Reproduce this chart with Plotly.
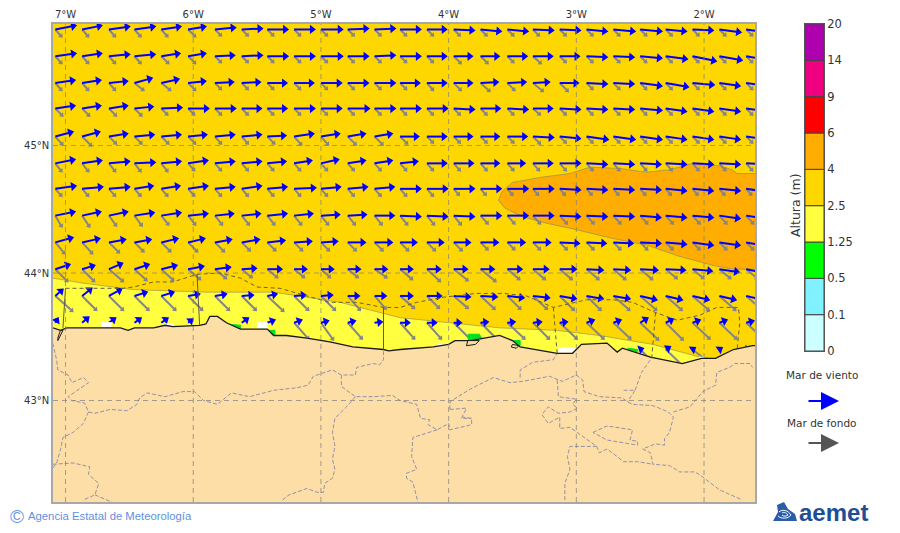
import numpy as np
import plotly.graph_objects as go

# map frame
lon_ticks = [-7, -6, -5, -4, -3, -2]
lon_labels = ['7°W', '6°W', '5°W', '4°W', '3°W', '2°W']
lat_ticks = [43, 44, 45]
lat_labels = ['43°N', '44°N', '45°N']
lon_range = [-7.098, -1.601]
lat_range = [42.204, 45.953]

# colour bar
level_labels = ['0', '0.1', '0.5', '1.25', '2.5', '4', '6', '9', '14', '20']
level_colors = ['#CCFFFF', '#80F2FF', '#00FF00', '#FFFF40', '#FFD700', '#FFAD00', '#FF0000', '#EE0080', '#AF00AF']

# wave height areas
yellow_lon = [-7.10, -6.86, -6.47, -5.89, -5.37, -5.11, -4.85, -4.38, -3.99, -3.60, -3.15, -2.82, -2.40, -2.03, -1.94, -1.94, -7.10]
yellow_lat = [43.96, 43.92, 43.87, 43.85, 43.85, 43.81, 43.77, 43.65, 43.61, 43.57, 43.55, 43.51, 43.44, 43.34, 43.33, 43.24, 43.24]
orange_lon = [-1.59, -1.74, -1.78, -1.88, -2.09, -2.27, -2.45, -2.66, -2.89, -3.05, -3.28, -3.50, -3.58, -3.61, -3.56, -3.42, -3.23, -3.00, -2.71, -2.45, -2.19, -1.93, -1.77, -1.59]
orange_lat = [44.78, 44.78, 44.81, 44.84, 44.86, 44.81, 44.79, 44.82, 44.83, 44.78, 44.75, 44.71, 44.64, 44.57, 44.51, 44.44, 44.39, 44.34, 44.27, 44.22, 44.13, 44.06, 44.03, 44.03]

# coast, west to east
coast_lon = [-7.10, -7.04, -6.99, -6.68, -6.57, -6.51, -6.46, -6.31, -6.22, -6.16, -5.95, -5.90, -5.87, -5.81, -5.74, -5.63, -5.42, -5.37, -5.27, -5.11, -4.93, -4.75, -4.51, -4.47, -4.38, -4.12, -4.00, -3.95, -3.83, -3.60, -3.50, -3.44, -3.15, -3.03, -2.96, -2.76, -2.68, -2.64, -2.42, -2.17, -2.02, -1.91, -1.77, -1.62, -1.60]
coast_lat = [43.57, 43.55, 43.57, 43.57, 43.57, 43.55, 43.57, 43.57, 43.59, 43.58, 43.59, 43.60, 43.66, 43.66, 43.61, 43.56, 43.56, 43.51, 43.51, 43.49, 43.46, 43.42, 43.40, 43.39, 43.40, 43.42, 43.44, 43.47, 43.47, 43.51, 43.47, 43.42, 43.37, 43.37, 43.44, 43.45, 43.38, 43.41, 43.34, 43.29, 43.33, 43.33, 43.40, 43.43, 43.43]

# small patches next to the shore
white_lon = [[-6.72, -6.64, -6.64, -6.72], [-6.23, -6.16, -6.16, -6.23], [-5.50, -5.42, -5.42, -5.50], [-4.09, -4.00, -4.00, -4.09], [-3.14, -3.01, -3.05, -3.14], [-2.04, -2.00, -2.00, -2.04]]
white_lat = [[43.61, 43.61, 43.57, 43.57], [43.60, 43.60, 43.58, 43.58], [43.61, 43.61, 43.56, 43.56], [43.44, 43.44, 43.42, 43.42], [43.41, 43.41, 43.33, 43.33], [43.34, 43.34, 43.32, 43.32]]
green_lon = [[-5.74, -5.63, -5.63, -5.74], [-5.42, -5.36, -5.36, -5.42], [-3.85, -3.73, -3.76, -3.85], [-3.50, -3.44, -3.44, -3.50], [-2.60, -2.52, -2.52, -2.60]]
green_lat = [[43.61, 43.56, 43.59, 43.60], [43.55, 43.55, 43.51, 43.51], [43.47, 43.47, 43.52, 43.52], [43.47, 43.47, 43.43, 43.43], [43.40, 43.38, 43.40, 43.41]]
islet_lon = [[-7.04, -7.02, -7.06, -7.06, -7.04], [-3.85, -3.76, -3.79, -3.86, -3.85], [-3.50, -3.45, -3.47, -3.51, -3.50]]
islet_lat = [[43.55, 43.55, 43.47, 43.49, 43.55], [43.47, 43.47, 43.44, 43.43, 43.47], [43.44, 43.43, 43.41, 43.42, 43.44]]

# coastal zone limits out at sea
zone_lon = [-7.00, -6.55, -6.47, -6.31, -6.16, -5.97, -5.79, -5.63, -5.50, -5.32, -5.11, -4.93, -4.72, -4.51, -4.38, -4.25, -4.04, -3.78, -3.57, -3.39, -3.18, -2.92, -2.71, -2.56, -2.38, -2.21, -2.03, -1.90, -1.73, -1.72, -1.74, None, -3.18, -3.15, None, -2.38, -2.41]
zone_lat = [43.88, 43.88, 43.89, 43.93, 43.93, 43.99, 44.00, 43.96, 43.89, 43.88, 43.82, 43.77, 43.77, 43.73, 43.73, 43.77, 43.81, 43.84, 43.84, 43.82, 43.73, 43.79, 43.79, 43.77, 43.69, 43.63, 43.67, 43.73, 43.73, 43.61, 43.41, None, 43.73, 43.37, None, 43.69, 43.33]
zone_side_lon = [-7.02, -7.00, None, -5.97, -5.95, None, -4.51, -4.51]
zone_side_lat = [43.57, 43.88, None, 43.99, 43.59, None, 43.73, 43.40]

# inland borders
border_lon = [-7.10, -7.07, -7.06, -6.98, -6.95, -6.86, -6.82, -6.91, -6.98, -6.95, -6.85, -6.82, -6.86, -6.94, -7.02, -7.04, -7.07, -7.10, None,
              -6.82, -6.77, -6.65, -6.52, -6.44, -6.42, -6.36, -6.22, -6.08, -5.99, -5.92, -5.81, -5.75, -5.70, -5.56, -5.37, -5.19, -5.10, -5.06, -4.91, -4.84, -4.73, -4.72, -4.59, -4.54, -4.51, -4.51, None,
              -4.84, -4.84, -4.73, -4.59, -4.44, -4.38, -4.25, -4.22, -4.15, -4.16, -4.09, -4.00, -3.99, -3.82, -3.82, -3.89, None,
              -4.73, -4.80, -4.89, -4.91, -4.89, -4.91, -4.89, -4.91, -4.97, -4.98, -5.03, -5.11, -5.25, -5.30, None,
              -7.10, -6.94, -6.81, -6.82, -6.74, -6.77, -6.86, None, -6.77, -6.63, -6.31, None,
              -3.99, -3.99, -3.83, -3.65, -3.52, -3.42, -3.21, -3.11, -3.00, -2.95, -2.94, -2.82, -2.64, -2.60, -2.56, -2.40, -2.28, -2.24, -2.27, -2.31, -2.31, -2.38, -2.48, -2.42, -2.40, -2.27, -2.19, -2.07, -2.01, -1.88, -1.70, None,
              -2.63, -2.54, -2.60, None, -2.54, -2.50, -2.49, -2.42, -2.42, None,
              -2.24, -2.11, -2.01, -1.91, -1.90, -1.80, -1.76, -1.64, -1.62, None,
              -3.44, -3.44, -3.34, -3.18, -3.15, None,
              -3.15, -3.14, -3.00, -3.03, -2.99, -3.05, -3.14, -3.22, -3.27, -3.22, -3.13, -3.13, -3.05, -2.84, -2.82, -2.76, -2.68, -2.63, -2.52, -2.40, None,
              -2.87, -2.76, -2.56, -2.58, -2.52, -2.52, -2.76, -2.87, None,
              -2.84, -3.05, -3.07, -3.05, -3.09, -3.09, None,
              -4.09, -4.28, -4.29, -4.25, -4.33, -4.33, -4.28, -4.24, None,
              -3.99, -3.86, -3.90, -3.82]
border_lat = [43.45, 43.32, 43.24, 43.20, 43.14, 43.18, 43.14, 43.08, 43.03, 43.00, 42.98, 42.91, 42.82, 42.75, 42.71, 42.61, 42.51, 42.47, None,
              42.91, 42.90, 42.93, 42.92, 42.97, 43.02, 43.06, 43.03, 43.07, 43.07, 43.00, 42.97, 43.02, 43.06, 43.03, 43.08, 43.10, 43.12, 43.19, 43.24, 43.20, 43.20, 43.26, 43.29, 43.28, 43.32, 43.40, None,
              43.20, 43.11, 43.03, 43.03, 43.04, 43.00, 42.97, 42.86, 42.85, 42.81, 42.77, 42.82, 42.77, 42.81, 42.86, 42.87, None,
              43.03, 42.95, 42.86, 42.75, 42.64, 42.54, 42.46, 42.39, 42.35, 42.28, 42.28, 42.31, 42.26, 42.22, None,
              42.50, 42.51, 42.48, 42.42, 42.35, 42.26, 42.22, None, 42.26, 42.20, 42.20, None,
              42.93, 42.99, 43.09, 43.18, 43.14, 43.15, 43.19, 43.15, 43.20, 43.16, 43.07, 43.03, 43.02, 42.99, 42.97, 42.96, 42.91, 42.87, 42.75, 42.70, 42.65, 42.66, 42.62, 42.59, 42.50, 42.49, 42.44, 42.44, 42.40, 42.30, 42.22, None,
              43.08, 43.08, 42.99, None, 43.08, 43.18, 43.22, 43.32, 43.34, None,
              42.91, 42.95, 43.07, 43.12, 43.22, 43.26, 43.29, 43.29, 43.26, None,
              43.18, 43.24, 43.30, 43.32, 43.37, None,
              43.16, 43.03, 43.01, 42.97, 42.94, 42.91, 42.90, 42.95, 42.89, 42.82, 42.87, 42.78, 42.79, 42.64, 42.59, 42.62, 42.56, 42.52, 42.52, 42.50, None,
              42.75, 42.80, 42.77, 42.69, 42.68, 42.65, 42.69, 42.75, None,
              42.64, 42.64, 42.56, 42.46, 42.35, 42.20, None,
              42.77, 42.71, 42.56, 42.46, 42.43, 42.39, 42.36, 42.20, None,
              42.93, 42.94, 42.86, 42.86]

# wave arrows: origin of each arrow
grid_lon = [-7.08, -6.87, -6.66, -6.46, -6.25, -6.04, -5.83, -5.62, -5.42, -5.21, -5.00, -4.79, -4.58, -4.38, -4.17, -3.96, -3.75, -3.54, -3.34, -3.13, -2.92, -2.71, -2.50, -2.30, -2.09, -1.88, -1.67]
grid_lat = [45.91, 45.70, 45.49, 45.29, 45.07, 44.86, 44.66, 44.45, 44.24, 44.03, 43.82, 43.61, 43.40]

# wind sea, east and north components, one row per latitude
wind_u = [
    [21, 20, 21, 21, 20, 18, 21, 21, 21, 21, 22, 21, 21, 21, 20, 21, 21, 21, 21, 21, 21, 22, 22, 21, 21, 22, 22],
    [21, 20, 21, 21, 19, 18, 20, 21, 21, 21, 22, 21, 21, 21, 20, 19, 19, 20, 20, 20, 21, 21, 22, 22, 24, 23, 23],
    [20, 19, 19, 18, 18, 18, 19, 19, 20, 20, 21, 21, 21, 20, 20, 19, 18, 19, 17, 19, 21, 21, 22, 23, 22, 21, 21],
    [20, 19, 19, 19, 21, 21, 21, 20, 20, 21, 21, 22, 21, 21, 21, 21, 20, 21, 20, 21, 21, 21, 22, 21, 21, 21, 21],
    [18, 18, 19, 20, 20, 19, 20, 20, 19, 20, 19, 18, 18, 19, 20, 19, 19, 20, 21, 21, 22, 22, 22, 21, 21, 21, 21],
    [20, 20, 21, 21, 20, 20, 20, 20, 19, 18, 18, 18, 18, 18, 20, 20, 19, 18, 20, 21, 21, 21, 21, 21, 21, 21, 21],
    [21, 21, 21, 19, 19, 20, 20, 20, 20, 22, 20, 20, 20, 21, 21, 21, 21, 21, 21, 21, 21, 21, 21, 21, 21, 21, 21],
    [20, 19, 19, 20, 20, 20, 19, 19, 20, 19, 19, 19, 20, 21, 21, 21, 21, 21, 21, 21, 21, 21, 21, 21, 21, 21, 21],
    [18, 18, 17, 17, 17, 17, 17, 18, 18, 18, 17, 18, 18, 17, 17, 17, 18, 18, 18, 20, 20, 20, 21, 21, 21, 21, 22],
    [15, 13, 14, 15, 16, 16, 16, 15, 15, 13, 13, 13, 13, 13, 14, 14, 14, 15, 16, 17, 17, 17, 18, 20, 20, 20, 20],
    [8, 10, 13, 13, 13, 12, 12, 12, 10, 12, 12, 12, 12, 13, 15, 17, 17, 17, 17, 17, 17, 17, 17, 17, 17, 17, 17],
    [3, 7, 7, 7, 7, 5, None, 7, 8, 8, 8, 8, 8, 10, 10, 8, 8, 8, 9, 8, 8, 8, 8, 8, 8, 8, 8],
    [None, None, None, None, None, None, None, None, None, None, None, None, None, None, None, None, None, None, None, None, None, None, 3, 5, 3, 3, 5],
]
wind_v = [
    [4, 4, 3, 3, 3, 3, 2, 1, 0, 0, 0, 1, 1, 0, 0, -1, -2, -2, -1, -1, -2, -2, -2, -2, -1, -3, -3],
    [3, 3, 2, 2, 3, 3, 1, 1, 0, 0, 0, 0, 1, 0, 0, 0, 0, 0, 0, 0, -1, -1, -2, -3, -5, -4, -4],
    [3, 3, 2, 5, 4, 2, 1, 1, 0, 0, 0, 0, 0, 0, 0, 0, 1, 1, 1, 0, -1, -1, -3, -4, -2, -3, -3],
    [3, 3, 3, 2, 1, 0, 0, 0, 0, 0, 0, 0, 0, 0, 0, -1, 0, -1, 0, -1, -1, -1, -2, -3, -3, -3, -3],
    [5, 5, 3, 2, 2, 2, 2, 2, 1, 3, 3, 3, 3, 0, 0, 0, 0, 0, -1, -2, -3, -3, -3, -3, -3, -3, -3],
    [4, 3, 2, 1, 2, 3, 2, 2, 2, 3, 4, 3, 3, 2, 0, 0, 0, 0, 0, 0, -1, -1, -1, -1, -1, -1, -1],
    [3, 2, 2, 3, 3, 3, 2, 3, 2, 1, 2, 2, 2, 0, 0, 0, 0, 0, 0, -1, -1, -1, -1, -2, -2, -2, -3],
    [4, 4, 4, 3, 3, 2, 2, 2, 2, 2, 1, 1, 0, -1, -1, -1, 0, 0, 0, -1, -1, -1, -2, -2, -2, -3, -3],
    [5, 4, 3, 3, 4, 4, 3, 3, 2, 1, 1, 0, 0, 0, 0, 0, 0, 0, 0, -1, -1, -1, -1, -2, -3, -3, -4],
    [5, 4, 6, 5, 4, 3, 2, 1, 0, 0, 0, 0, 0, 0, 0, 0, 0, 0, 0, 0, -1, -1, -1, -1, -2, -3, -4],
    [7, 8, 7, 4, 4, 2, 2, 1, 2, 1, 1, 0, 0, 0, 0, -1, -1, -2, -2, -3, -3, -3, -4, -4, -4, -4, -4],
    [5, 6, 5, 5, 5, 4, None, 5, 3, 3, 2, 2, 1, 0, 0, 0, 1, 1, 1, 1, 3, 3, 5, 4, 3, 3, 2],
    [None, None, None, None, None, None, None, None, None, None, None, None, None, None, None, None, None, None, None, None, None, None, 1, 3, 2, 2, 1],
]

# swell, east and north components
swell_u = [
    [7, 7, 7, 7, 7, 8, 7, 7, 7, 7, 7, 7, 7, 7, 7, 7, 7, 7, 7, 7, 7, 7, 7, 7, 7, 7, 7],
    [7, 7, 7, 7, 8, 8, 7, 7, 7, 7, 7, 7, 7, 7, 7, 8, 8, 7, 9, 7, 7, 7, 7, 7, 7, 7, 7],
    [7, 7, 7, 10, 10, 8, 7, 7, 7, 7, 7, 7, 7, 7, 7, 8, 10, 8, 11, 9, 7, 7, 7, 7, 7, 7, 7],
    [8, 8, 8, 8, 7, 7, 7, 7, 7, 7, 7, 7, 7, 7, 7, 7, 7, 7, 8, 7, 7, 7, 7, 7, 7, 7, 7],
    [8, 10, 8, 8, 8, 8, 7, 7, 8, 8, 8, 9, 9, 8, 7, 7, 7, 7, 8, 7, 7, 7, 7, 7, 7, 7, 7],
    [7, 7, 7, 7, 7, 7, 7, 7, 7, 7, 7, 7, 7, 7, 7, 7, 7, 7, 7, 7, 7, 7, 7, 7, 7, 7, 7],
    [7, 7, 7, 7, 7, 7, 7, 7, 7, 7, 7, 7, 7, 7, 7, 6, 6, 6, 6, 6, 6, 6, 6, 6, 6, 6, 6],
    [7, 8, 8, 8, 8, 8, 8, 8, 8, 8, 8, 8, 8, 8, 8, 8, 8, 8, 8, 8, 8, 8, 8, 8, 8, 8, 8],
    [10, 11, 11, 10, 10, 10, 10, 9, 9, 9, 9, 9, 9, 9, 9, 9, 8, 8, 8, 8, 8, 8, 8, 8, 8, 8, 8],
    [13, 13, 15, 13, 13, 13, 12, 11, 11, 11, 10, 11, 13, 13, 14, 15, 16, 13, 13, 13, 13, 13, 13, 12, 12, 12, 12],
    [18, 15, 15, 15, 15, 15, 15, 15, 17, 15, 15, 13, 12, 15, 13, 15, 15, 14, 15, 15, 15, 17, 17, 17, 17, 17, 17],
    [None, None, None, None, None, None, None, None, None, 15, 13, 15, None, 15, 15, 18, 18, 18, 17, 18, 18, 18, 19, 18, 18, 18, 18],
    [None, None, None, None, None, None, None, None, None, None, None, None, None, None, None, None, None, None, None, None, None, None, 10, 18, 18, None, None],
]
swell_v = [
    [-8, -8, -8, -8, -8, -8, -7, -7, -7, -7, -7, -7, -7, -7, -7, -7, -7, -7, -7, -7, -7, -7, -7, -7, -7, -7, -7],
    [-8, -8, -8, -8, -8, -8, -7, -7, -7, -7, -7, -7, -7, -7, -7, -8, -8, -7, -8, -7, -7, -7, -7, -7, -7, -7, -7],
    [-8, -8, -8, -8, -8, -8, -7, -7, -7, -7, -7, -7, -7, -7, -8, -8, -9, -8, -9, -9, -7, -7, -7, -7, -7, -7, -7],
    [-8, -8, -8, -8, -7, -7, -7, -7, -7, -7, -7, -7, -7, -7, -7, -7, -7, -7, -7, -7, -7, -7, -7, -7, -7, -7, -7],
    [-9, -10, -8, -8, -8, -8, -8, -8, -8, -9, -9, -9, -9, -8, -7, -7, -7, -7, -8, -7, -7, -7, -7, -7, -7, -7, -7],
    [-9, -9, -9, -9, -9, -8, -8, -8, -8, -8, -8, -8, -8, -8, -8, -8, -8, -8, -8, -8, -8, -8, -8, -8, -8, -8, -8],
    [-8, -8, -8, -8, -8, -8, -8, -8, -8, -8, -8, -8, -8, -8, -8, -7, -7, -7, -7, -7, -7, -7, -7, -7, -7, -7, -7],
    [-12, -12, -11, -11, -10, -10, -10, -10, -10, -10, -10, -10, -10, -10, -10, -10, -9, -9, -9, -9, -9, -9, -9, -9, -9, -9, -9],
    [-12, -12, -11, -10, -10, -10, -10, -9, -9, -9, -9, -9, -9, -9, -9, -9, -8, -8, -8, -8, -8, -8, -8, -8, -8, -8, -8],
    [-13, -13, -13, -12, -12, -11, -10, -9, -9, -9, -9, -9, -9, -11, -13, -12, -13, -11, -11, -11, -11, -11, -11, -10, -10, -10, -10],
    [-16, -15, -15, -15, -15, -15, -15, -15, -16, -15, -15, -15, -14, -13, -13, -13, -14, -14, -14, -15, -15, -15, -15, -15, -15, -15, -15],
    [None, None, None, None, None, None, None, None, None, -17, -18, -17, None, -17, -17, -18, -18, -17, -17, -17, -17, -17, -18, -18, -17, -17, -17],
    [None, None, None, None, None, None, None, None, None, None, None, None, None, None, None, None, None, None, None, None, None, None, -10, -17, -14, None, None],
]

# degrees of map for one unit of arrow component
arrow_scale = 0.00783


def arrow_traces(u, v, color, width, head):
    u = np.array(u, dtype=float)
    v = np.array(v, dtype=float)
    shaft_x, shaft_y, head_x, head_y, head_angle = [], [], [], [], []
    for r, lat in enumerate(grid_lat):
        for c, lon in enumerate(grid_lon):
            if np.isnan(u[r, c]):
                continue
            length = np.hypot(u[r, c], v[r, c])
            # head centre sits a bit behind the tip
            back = max(length - head * 0.4, 0.5) * arrow_scale
            hx = lon + u[r, c] / length * back
            hy = lat + v[r, c] / length * back
            shaft_x += [lon, hx, None]
            shaft_y += [lat, hy, None]
            head_x.append(hx)
            head_y.append(hy)
            head_angle.append(float(np.degrees(np.arctan2(u[r, c], v[r, c]))))
    shaft = go.Scatter(x=shaft_x, y=shaft_y, mode='lines', line=dict(color=color, width=width), hoverinfo='skip')
    heads = go.Scatter(x=head_x, y=head_y, mode='markers', hoverinfo='skip',
                       marker=dict(symbol='triangle-up', size=head, color=color, angle=head_angle, line=dict(width=0)))
    return [shaft, heads]


def area(x, y, color, line=None):
    return go.Scatter(x=x, y=y, mode='lines', fill='toself', fillcolor=color, hoverinfo='skip',
                      line=dict(color=line or color, width=1))


fig = go.Figure()

# height bands
fig.add_trace(area(yellow_lon, yellow_lat, '#FFFF40', 'rgba(170,160,70,0.8)'))
fig.add_trace(area(orange_lon, orange_lat, '#FFAD00', 'rgba(170,150,70,0.9)'))

# arrows, land goes over them
fig.add_traces(arrow_traces(swell_u, swell_v, '#858585', 2, 5))
fig.add_traces(arrow_traces(wind_u, wind_v, '#0000FF', 2, 8))

for x, y in zip(white_lon, white_lat):
    fig.add_trace(area(x, y, '#FFFFFF'))
for x, y in zip(green_lon, green_lat):
    fig.add_trace(area(x, y, '#00E020'))

fig.add_trace(area(coast_lon + [-1.60, -7.10, -7.10], coast_lat + [42.20, 42.20, 43.57], '#FDDEA6'))
fig.add_trace(go.Scatter(x=border_lon, y=border_lat, mode='lines', hoverinfo='skip',
                         line=dict(color='#9491A8', width=1, dash='4px,2px')))
fig.add_trace(go.Scatter(x=coast_lon, y=coast_lat, mode='lines', hoverinfo='skip', line=dict(color='#1A1A1A', width=1.3)))
for x, y in zip(islet_lon, islet_lat):
    fig.add_trace(area(x, y, '#FDDEA6', '#1A1A1A'))
fig.add_trace(go.Scatter(x=zone_lon, y=zone_lat, mode='lines', hoverinfo='skip',
                         line=dict(color='#666040', width=1, dash='4px,3px')))
fig.add_trace(go.Scatter(x=zone_side_lon, y=zone_side_lat, mode='lines', hoverinfo='skip',
                         line=dict(color='#5A5A50', width=1)))

# graticule on top of the land
for lon in lon_ticks:
    fig.add_trace(go.Scatter(x=[lon, lon], y=lat_range, mode='lines', hoverinfo='skip',
                             line=dict(color='rgba(125,125,125,0.7)', width=1, dash='5px,4px')))
for lat in lat_ticks:
    fig.add_trace(go.Scatter(x=lon_range, y=[lat, lat], mode='lines', hoverinfo='skip',
                             line=dict(color='rgba(125,125,125,0.7)', width=1, dash='5px,4px')))

# colour bar as a column of equal steps
fig.add_trace(go.Bar(x=[0] * len(level_colors), y=[1] * len(level_colors), base=list(range(len(level_colors))),
                     width=1, marker=dict(color=level_colors, line=dict(color='#444444', width=1)),
                     xaxis='x2', yaxis='y2', hoverinfo='skip'))

fig.update_layout(
    width=900, height=533,
    margin=dict(l=0, r=0, t=0, b=0),
    paper_bgcolor='white', plot_bgcolor='#FFD700',
    showlegend=False, barmode='overlay',
    font=dict(family='DejaVu Sans', color='#333333'),
    xaxis=dict(domain=[53 / 900, 755 / 900], range=lon_range, side='top', tickvals=lon_ticks, ticktext=lon_labels,
               showgrid=False, zeroline=False, ticks='', showline=True, mirror=True, linecolor='#A8A8A8', linewidth=1.5,
               tickfont=dict(size=10), automargin=False),
    yaxis=dict(domain=[1 - 502 / 533, 1 - 24 / 533], range=lat_range, tickvals=lat_ticks, ticktext=lat_labels,
               showgrid=False, zeroline=False, ticks='', showline=True, mirror=True, linecolor='#A8A8A8', linewidth=1.5,
               tickfont=dict(size=10), automargin=False),
    xaxis2=dict(domain=[805 / 900, 824 / 900], range=[-0.5, 0.5], anchor='y2', showticklabels=False, showgrid=False,
                zeroline=False, ticks='', showline=True, mirror=True, linecolor='#555555', linewidth=1, automargin=False),
    yaxis2=dict(domain=[1 - 351 / 533, 1 - 24 / 533], range=[0, 9], anchor='x2', side='right',
                tickvals=list(range(10)), ticktext=level_labels, showgrid=False, zeroline=False, ticks='',
                showline=True, mirror=True, linecolor='#555555', linewidth=1, tickfont=dict(size=11.5), automargin=False),
)


def text(label, x, y, size, color='#333333', family='DejaVu Sans', anchor='left', angle=0, weight=None):
    fig.add_annotation(text=label, x=x / 900, y=1 - y / 533, xref='paper', yref='paper', showarrow=False,
                       xanchor=anchor, yanchor='middle', textangle=angle,
                       font=dict(size=size, color=color, family=family, weight=weight))


def legend_arrow(x0, x1, y, color):
    fig.add_annotation(x=x1 / 900, y=1 - y / 533, ax=x0 - x1, ay=0, xref='paper', yref='paper',
                       axref='pixel', ayref='pixel', text='', showarrow=True, arrowhead=2, arrowsize=1.8,
                       arrowwidth=2, arrowcolor=color)


text('Altura (m)', 796, 205, 12.5, anchor='center', angle=-90)
text('Mar de viento', 822, 375, 10.5, anchor='center')
legend_arrow(807, 839, 401, '#0000FF')
text('Mar de fondo', 821, 423, 10.5, anchor='center')
legend_arrow(807, 839, 443, '#555555')

text('©', 8, 516, 19, color='#6A9AE8', family='Liberation Sans')
text('Agencia Estatal de Meteorología', 26, 516, 11.3, color='#5F90E0', family='Liberation Sans')
text('aemet', 797, 512, 24, color='#1F4E96', family='Liberation Sans', weight='bold')

# aemet emblem, pixel sized around its anchor
logo_x, logo_y = 785 / 900, 1 - 512 / 533
for path, fill, line in [
    ('M -12 -9 L 12 -9 L 10 -2 L 3 3 L -1 10 L -8 7 L -7 0 Z', '#2A5CA8', 'rgba(0,0,0,0)'),
    ('M -7 -4 C -4 -7 3 -7 6 -3 C 3 2 -3 3 -6 0', 'rgba(0,0,0,0)', 'white'),
    ('M -3 -3 C -1 -5 2 -4 3 -3 C 1 0 -2 0 -3 -1', 'rgba(0,0,0,0)', 'white'),
]:
    fig.add_shape(type='path', path=path, xref='paper', yref='paper', xsizemode='pixel', ysizemode='pixel',
                  xanchor=logo_x, yanchor=logo_y, fillcolor=fill, line=dict(color=line, width=1))

# the page body has a default margin that would shift the whole figure
fig.write_html("out.html", config=dict(displayModeBar=False), post_script="document.body.style.margin = '0';")
